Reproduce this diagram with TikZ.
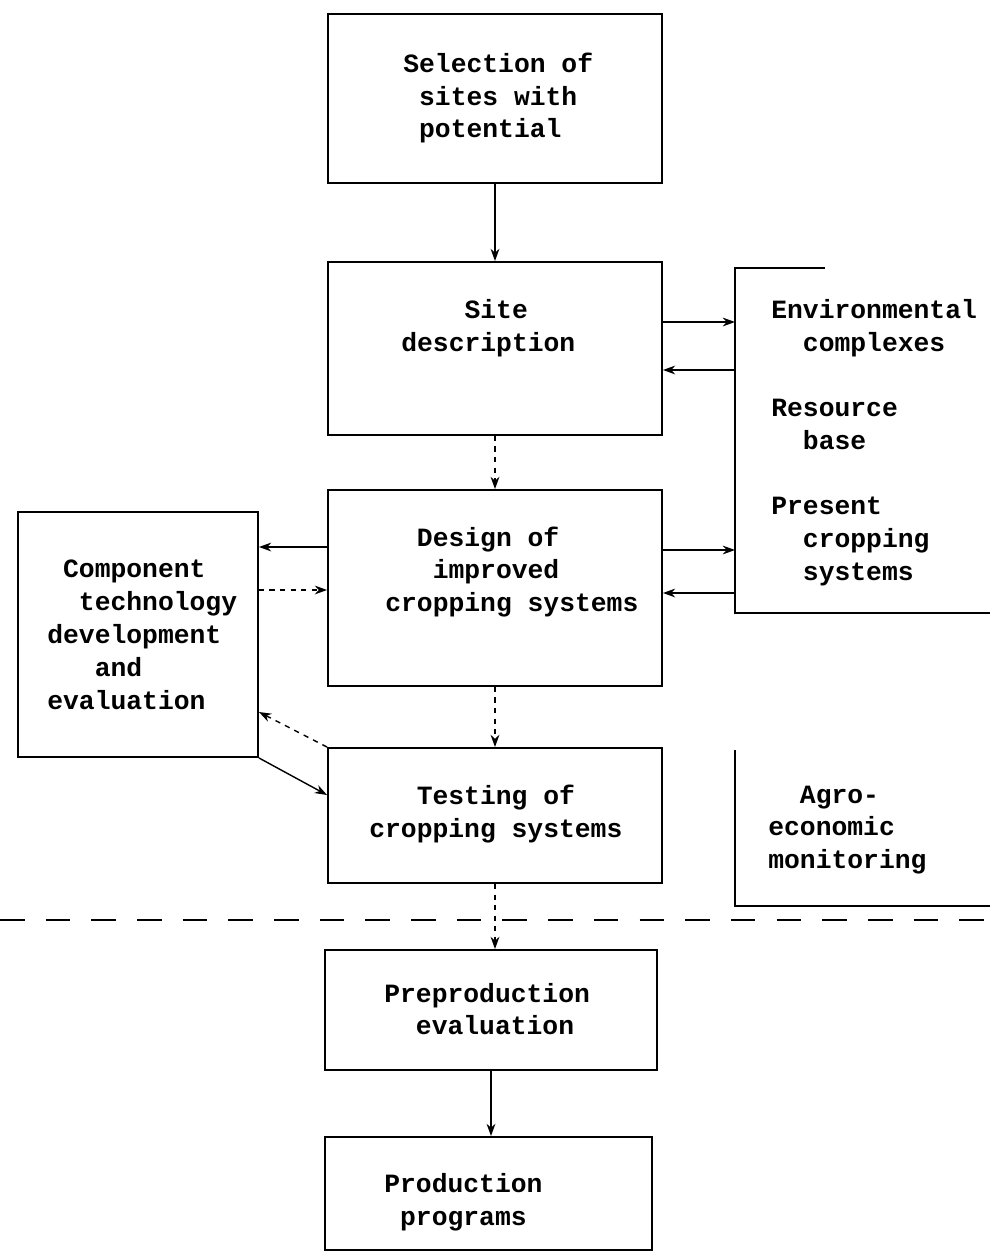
\documentclass[tikz,border=0pt]{standalone}
\usepackage{fontspec}
\setmonofont{Liberation Mono}
\usetikzlibrary{arrows.meta}

\begin{document}
\begin{tikzpicture}[x=0.02cm, y=-0.02cm,
    every node/.style={font=\ttfamily\bfseries\fontsize{15}{18.7}\selectfont},
    box/.style={draw, line width=1.1pt, inner sep=0pt},
    txt/.style={align=left, inner sep=0pt, anchor=west},
    arr/.style={-{Stealth[length=7pt,width=5pt]}, line width=0.8pt},
    sep/.style={dash pattern=on 14pt off 12pt, line width=0.9pt}]
    \useasboundingbox (0,0) rectangle (990,1258);

    % Main column
    \node[box, minimum width=6.68cm, minimum height=3.38cm] (sel) at (495,98.5) {};
    \node[txt] (sel-t) at (403,98) {Selection of\\\hspace*{0.6em}sites with\\\hspace*{0.6em}potential};
    \node[box, minimum width=6.68cm, minimum height=3.46cm] (site) at (495,348.5) {};
    \node[txt] (site-t) at (401,328) {\hspace*{2.4em}Site\\description};
    \node[box, minimum width=6.68cm, minimum height=3.92cm] (design) at (495,588) {};
    \node[txt] (design-t) at (385,572) {\hspace*{1.2em}Design of\\\hspace*{1.8em}improved\\cropping systems};
    \node[box, minimum width=6.68cm, minimum height=2.7cm] (test) at (495,815.5) {};
    \node[txt] (test-t) at (369,814) {\hspace*{1.8em}Testing of\\cropping systems};
    \node[box, minimum width=6.64cm, minimum height=2.4cm] (prepro) at (491,1010) {};
    \node[txt] (prepro-t) at (384,1009) {Preproduction\\\hspace*{1.2em}evaluation};
    \node[box, minimum width=6.54cm, minimum height=2.26cm] (prod) at (488.5,1193.5) {};
    \node[txt] (prod-t) at (384,1202) {Production\\\hspace*{0.6em}programs};

    % Side boxes
    \node[box, minimum width=4.8cm, minimum height=4.9cm] (comp) at (138,634.5) {};
    \node[txt] (comp-t) at (47,635) {\hspace*{0.6em}Component\\\hspace*{1.2em}technology\\development\\\hspace*{1.8em}and\\evaluation};
    \node[inner sep=0pt, minimum width=5.1cm, minimum height=6.88cm, anchor=north west] (env) at (735,268) {};
    \draw[line width=1.1pt] ([xshift=1.8cm]env.north west) -- (env.north west) -- (env.south west) -- (env.south east);
    \node[txt] (env-t) at (771,442.5) {Environmental\\\hspace*{1.2em}complexes\\[18.5pt]Resource\\\hspace*{1.2em}base\\[18.5pt]Present\\\hspace*{1.2em}cropping\\\hspace*{1.2em}systems};
    \node[inner sep=0pt, minimum width=5.1cm, minimum height=3.1cm, anchor=north west] (agro) at (735,750) {};
    \draw[line width=1.1pt] (agro.north west) -- (agro.south west) -- (agro.south east);
    \node[txt] (agro-t) at (768,830) {\hspace*{1.2em}Agro-\\economic\\monitoring};

    % Separator
    \draw[sep] (0,920) -- (990,920);

    % Down the column
    \draw[arr] (sel) -- (site);
    \draw[arr, dashed] (site) -- (design);
    \draw[arr, dashed] (design) -- (test);
    \draw[arr, dashed] (test) -- (test |- prepro.north);
    \draw[arr] (prepro) -- (prepro |- prod.north);

    % Links to the side boxes
    \draw[arr] (site.east |- 0,322) -- (env.west |- 0,322);
    \draw[arr] (env.west |- 0,370) -- (site.east |- 0,370);
    \draw[arr] (design.east |- 0,550) -- (env.west |- 0,550);
    \draw[arr] (env.west |- 0,593) -- (design.east |- 0,593);
    \draw[arr] (design.west |- 0,547) -- (comp.east |- 0,547);
    \draw[arr, dashed] (comp.east |- 0,590) -- (design.west |- 0,590);
    \draw[arr, dashed] (test.north west) -- (comp.east |- 0,712);
    \draw[arr] (comp.south east) -- (test.west |- 0,795);
\end{tikzpicture}
\end{document}
